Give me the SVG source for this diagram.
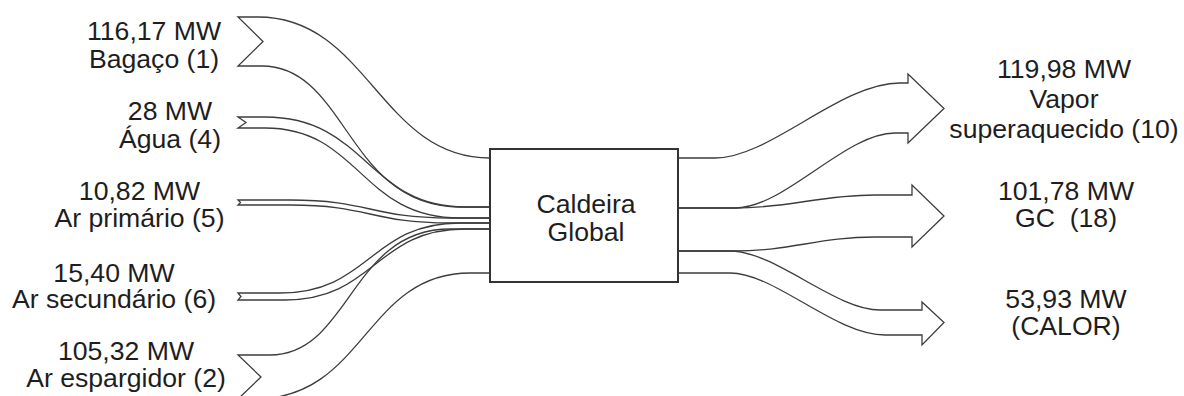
<svg xmlns="http://www.w3.org/2000/svg" width="1184" height="396" viewBox="0 0 1184 396">
  <style>
    .flow { fill: none; stroke: #3c3c3c; stroke-width: 1.3; stroke-linejoin: miter; }
    .box { fill: #fff; stroke: #333; stroke-width: 2; }
    .lbl { font-family: "Liberation Sans", Arial, sans-serif; font-size: 25px; fill: #1e1e1e; text-anchor: middle; }
  </style>

  <!-- energy flows (Sankey bands) -->
  <g id="connectors">
    <!-- inputs -->
    <path id="f-bagaco" class="flow" d="M238,17 L258,17 C368,17 380,158 490,158 L490,207 L460,207 C347,207 347,66 262,66 L238,66 L263,41.5 Z"/>
    <path id="f-agua" class="flow" d="M238,117 L265,117 C367,117 367,207 465,207 L490,207 L490,218 L460,218 C360,218 360,128 265,128 L238,128 L246,122.5 Z"/>
    <path id="f-ar-prim" class="flow" d="M238,200 L290,200 C370,200 370,218 450,218 L490,218 L490,223 L450,223 C370,223 370,205 290,205 L238,205 L240.5,202.5 Z"/>
    <path id="f-ar-sec" class="flow" d="M238,293 L280,293 C370,293 370,223 460,223 L490,223 L490,229 L465,229 C375,229 375,300 285,300 L238,300 L241,296.5 Z"/>
    <path id="f-ar-esp" class="flow" d="M238,355 L270,355 C350,355 350,229 450,229 L490,229 L490,273 L470,273 C365,273 365,399 255,399 L238,399 L261,377 Z"/>
    <!-- outputs -->
    <path id="f-vapor" class="flow" d="M678,158 L715,158 C770,158 840,83 900,83 L908,83 L908,74 L944,108.5 L908,143 L908,133 L895,133 C845,133 785,208 735,208 L678,208 Z"/>
    <path id="f-gc" class="flow" d="M678,208 L735,208 C790,208 820,195 875,195 L912,195 L912,185 L944,216 L912,247 L912,237 L875,237 C820,237 790,251 735,251 L678,251 Z"/>
    <path id="f-calor" class="flow" d="M678,251 L730,251 C775,251 835,310 880,310 L922,310 L922,302 L944,322.5 L922,345 L922,335 L885,335 C835,335 775,273 730,273 L678,273 Z"/>
  </g>

  <!-- boiler -->
  <g id="caldeira">
    <rect class="box" x="490" y="149" width="188" height="133"/>
    <g transform="translate(586 0) scale(1.065 1)">
      <text class="lbl" x="0" y="213">Caldeira</text>
      <text class="lbl" x="0" y="241">Global</text>
    </g>
  </g>

  <!-- input streams -->
  <g id="in-bagaco" transform="translate(154 0) scale(1.065 1)">
    <text class="lbl" x="0" y="40">116,17 MW</text>
    <text class="lbl" x="0" y="68">Bagaço (1)</text>
  </g>
  <g id="in-agua" transform="translate(170 0) scale(1.065 1)">
    <text class="lbl" x="0" y="120">28 MW</text>
    <text class="lbl" x="0" y="148">Água (4)</text>
  </g>
  <g id="in-ar-prim" transform="translate(139.5 0) scale(1.065 1)">
    <text class="lbl" x="0" y="200">10,82 MW</text>
    <text class="lbl" x="0" y="227">Ar primário (5)</text>
  </g>
  <g id="in-ar-sec" transform="translate(114 0) scale(1.065 1)">
    <text class="lbl" x="0" y="282">15,40 MW</text>
    <text class="lbl" x="0" y="308">Ar secundário (6)</text>
  </g>
  <g id="in-ar-esp" transform="translate(126 0) scale(1.065 1)">
    <text class="lbl" x="0" y="360">105,32 MW</text>
    <text class="lbl" x="0" y="387">Ar espargidor (2)</text>
  </g>

  <!-- output streams -->
  <g id="out-vapor" transform="translate(1064 0) scale(1.065 1)">
    <text class="lbl" x="0" y="78">119,98 MW</text>
    <text class="lbl" x="0" y="108">Vapor</text>
    <text class="lbl" x="0" y="138">superaquecido (10)</text>
  </g>
  <g id="out-gc" transform="translate(1066 0) scale(1.065 1)">
    <text class="lbl" x="0" y="200">101,78 MW</text>
    <text class="lbl" x="0" y="227" xml:space="preserve">GC  (18)</text>
  </g>
  <g id="out-calor" transform="translate(1066 0) scale(1.065 1)">
    <text class="lbl" x="0" y="308">53,93 MW</text>
    <text class="lbl" x="0" y="335">(CALOR)</text>
  </g>
</svg>
